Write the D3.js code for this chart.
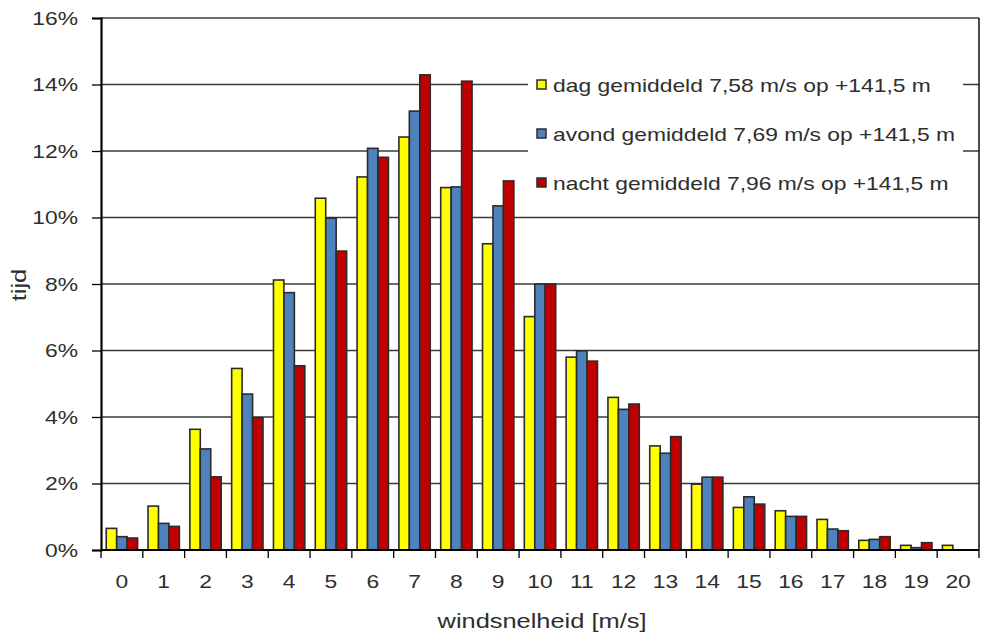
<!DOCTYPE html>
<html>
<head>
<meta charset="utf-8">
<script src="https://cdn.jsdelivr.net/npm/d3@7"></script>
<style>
  body { margin: 0; background: #fff; }
  svg { display: block; font-family: "Liberation Sans", Arial, sans-serif; }
</style>
</head>
<body>
<svg id="chart" width="983" height="638"></svg>
<script>
const categories = ["0","1","2","3","4","5","6","7","8","9","10","11","12","13","14","15","16","17","18","19","20"];
const seriesNames = [
  "dag gemiddeld 7,58 m/s op +141,5 m",
  "avond gemiddeld 7,69 m/s op +141,5 m",
  "nacht gemiddeld 7,96 m/s op +141,5 m"
];
const dag   = [0.65, 1.32, 3.63, 5.46, 8.12, 10.58, 11.22, 12.42, 10.90, 9.21, 7.02, 5.80, 4.59, 3.13, 1.98, 1.28, 1.18, 0.92, 0.29, 0.14, 0.14];
const avond = [0.40, 0.80, 3.04, 4.69, 7.74, 9.98, 12.08, 13.20, 10.92, 10.35, 8.00, 5.99, 4.23, 2.91, 2.19, 1.60, 1.01, 0.63, 0.32, 0.07, 0.0];
const nacht = [0.36, 0.71, 2.20, 3.98, 5.54, 8.99, 11.81, 14.29, 14.10, 11.10, 8.00, 5.68, 4.39, 3.41, 2.19, 1.38, 1.01, 0.58, 0.40, 0.22, 0.0];
const yTicks = [0, 2, 4, 6, 8, 10, 12, 14, 16];
const colors = ["#FFFF00", "#4F81BD", "#C00000"];

(function () {
const svg = d3.select("#chart");
const pLeft = 101, pRight = 979, pTop = 18, pBottom = 550;
const SX = 1.27;
const textColor = "#2e2e2e";

function stext(parent, x, yy, txt, size, anchor, rot) {
  return parent.append("text")
    .attr("transform", `translate(${x},${yy})` + (rot ? ` rotate(${rot})` : "") + ` scale(${SX},1)`)
    .attr("text-anchor", anchor)
    .attr("font-size", size)
    .attr("fill", textColor)
    .text(txt);
}

const y = d3.scaleLinear().domain([0, 16]).range([pBottom, pTop]);
const x0 = d3.scaleBand().domain(categories).range([pLeft, pRight]).padding(0);
const bw = x0.bandwidth();
const x1 = d3.scaleBand().domain(d3.range(3)).range([bw / 8, bw * 7 / 8]).padding(0);

// gridlines
svg.append("g").selectAll("line").data(yTicks.filter(d => d > 0)).join("line")
  .attr("x1", pLeft).attr("x2", pRight)
  .attr("y1", d => y(d)).attr("y2", d => y(d))
  .attr("stroke", "#3a3a3a").attr("stroke-width", 1.4);

// right border
svg.append("line").attr("x1", pRight).attr("x2", pRight).attr("y1", y(16)).attr("y2", pBottom)
  .attr("stroke", "#111").attr("stroke-width", 1.5);

// legend background
svg.append("rect").attr("x", 528).attr("y", 60).attr("width", 435).attr("height", 146).attr("fill", "#fff");

// bars
const data = categories.map((c, i) => ({ c, vals: [dag[i], avond[i], nacht[i]] }));
const groups = svg.append("g").selectAll("g").data(data).join("g")
  .attr("transform", d => `translate(${x0(d.c)},0)`);
groups.selectAll("rect").data(d => d.vals.map((v, k) => ({ v, k }))).join("rect")
  .attr("x", d => x1(d.k))
  .attr("width", x1.bandwidth())
  .attr("y", d => y(d.v))
  .attr("height", d => pBottom - y(d.v))
  .attr("fill", d => colors[d.k])
  .attr("stroke", "#2b2b2b").attr("stroke-width", 1.6);

// y axis
const yAxis = d3.axisLeft(y).tickValues(yTicks).tickFormat("").tickSize(9);
const gy = svg.append("g").attr("transform", `translate(${pLeft},0)`).call(yAxis);
gy.select(".domain").attr("stroke", "#000").attr("stroke-width", 2.2);
gy.selectAll(".tick line").attr("stroke", "#000").attr("stroke-width", 1.3);
const gyl = svg.append("g");
yTicks.forEach(t => stext(gyl, 78, y(t) + 6.5, t + "%", 18, "end"));

// x axis baseline and ticks at band boundaries
svg.append("line").attr("x1", pLeft).attr("x2", pRight).attr("y1", pBottom).attr("y2", pBottom)
  .attr("stroke", "#000").attr("stroke-width", 2.2);
const bounds = categories.map(c => x0(c)).concat([pRight]);
svg.append("g").selectAll("line").data(bounds).join("line")
  .attr("x1", d => d).attr("x2", d => d).attr("y1", pBottom).attr("y2", pBottom + 8)
  .attr("stroke", "#000").attr("stroke-width", 1.3);
const gxl = svg.append("g");
categories.forEach(c => stext(gxl, x0(c) + bw / 2, 588, c, 18, "middle"));

// axis titles
stext(svg, 542, 628, "windsnelheid [m/s]", 20, "middle");
stext(svg, 26, 285, "tijd", 20, "middle", -90);

// legend
const legRowsY = [85, 134, 183];
seriesNames.forEach((name, i) => {
  const g = svg.append("g").attr("transform", `translate(537,${legRowsY[i]})`);
  g.append("rect").attr("x", 0).attr("y", -5).attr("width", 9).attr("height", 9)
    .attr("fill", colors[i]).attr("stroke", "#2b2b2b").attr("stroke-width", 1.5);
  stext(g, 16, 6.5, name, 18, "start");
});
})();
</script>
</body>
</html>
